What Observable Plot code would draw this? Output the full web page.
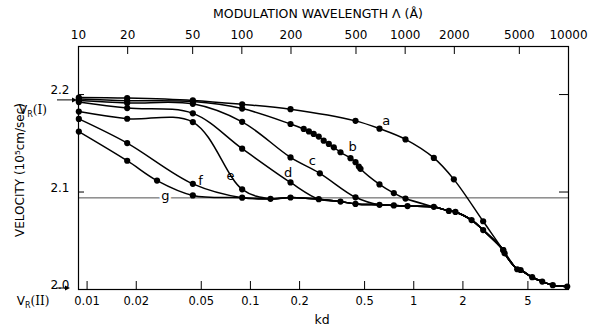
<!DOCTYPE html>
<html><head><meta charset="utf-8">
<script src="https://cdn.jsdelivr.net/npm/d3@7"></script>
<script src="https://cdn.jsdelivr.net/npm/@observablehq/plot@0.6"></script>
<style>
body{margin:0;background:#fff;}
#chart{width:596px;height:330px;}
</style></head><body><div id="chart"></div>
<script>
// ---- data (kd, velocity in 10^5 cm/sec) ----
const curveNames = ["a","b","c","d","e","f","g"];
const aKd = [0.0089, 0.0176, 0.0444, 0.089, 0.176, 0.44, 0.617, 0.89, 1.327, 1.76, 2.66, 3.53];
const aV  = [2.197, 2.1964, 2.194, 2.190, 2.185, 2.173, 2.165, 2.154, 2.135, 2.113, 2.070, 2.0405];
const bKd = [0.0089, 0.0176, 0.0444, 0.089, 0.176, 0.212, 0.228, 0.244, 0.262, 0.281, 0.302, 0.324, 0.356, 0.410, 0.440, 0.461, 0.472, 0.617, 0.755, 0.890];
const bV  = [2.1954, 2.1937, 2.1928, 2.1856, 2.1698, 2.1647, 2.1622, 2.1596, 2.1569, 2.1527, 2.1494, 2.1459, 2.1408, 2.1347, 2.1306, 2.1261, 2.1238, 2.1078, 2.0989, 2.0933];
const cKd = [0.0089, 0.0176, 0.0444, 0.089, 0.176, 0.266, 0.440];
const cV  = [2.1938, 2.1913, 2.1905, 2.172, 2.1355, 2.1192, 2.0946];
const dKd = [0.0089, 0.0176, 0.0444, 0.089, 0.176];
const dV  = [2.1923, 2.1861, 2.1807, 2.1445, 2.1098];
const eKd = [0.0089, 0.0176, 0.0444, 0.089];
const eV  = [2.1825, 2.1752, 2.1718, 2.1028];
const fKd = [0.0089, 0.0176, 0.0444];
const fV  = [2.175, 2.1502, 2.1084];
const gKd = [0.0089, 0.0176, 0.0268, 0.0444];
const gV  = [2.162, 2.1321, 2.1117, 2.0965];
// common lower branch shared by the curves
const tailKd = [0.089, 0.1327, 0.176, 0.262, 0.356, 0.440, 0.617, 0.755, 0.916, 1.327, 1.64, 1.80, 2.26, 2.66, 3.53, 3.60, 4.30, 4.51, 5.31, 6.12, 7.10, 8.70];
const tailV  = [2.0942, 2.0930, 2.0944, 2.0927, 2.0902, 2.0878, 2.0869, 2.0863, 2.0856, 2.0848, 2.0806, 2.0796, 2.0712, 2.061, 2.0405, 2.0371, 2.0208, 2.020, 2.0126, 2.0081, 2.0044, 2.0031];
// curve label positions
const labelText = ["a","b","c","d","e","f","g"];
const labelKd = [0.678, 0.423, 0.239, 0.170, 0.0755, 0.0495, 0.0302];
const labelV  = [2.1726, 2.1467, 2.1322, 2.1201, 2.1164, 2.1111, 2.0956];
// axes
const kdTicks = [0.01, 0.02, 0.05, 0.1, 0.2, 0.5, 1, 2, 5];
const kdTickLabels = ["0.01", "0.02", "0.05", "0.1", "0.2", "0.5", "1", "2", "5"];
const lambdaTicks = [10, 20, 50, 100, 200, 500, 1000, 2000, 5000, 10000];
const lambdaTickLabels = ["10", "20", "50", "100", "200", "500", "1000", "2000", "5000", "10000"];
const vTicks = [2.0, 2.1, 2.2];
const vTickLabels = ["2.0", "2.1", "2.2"];
const refLineV = 2.094;
const vrI = 2.194;
const K = 1128.7; // Λ (Å) = K · kd on this chart
const xDomain = [0.00886, 8.86];
const yDomain = [2.0, 2.2493];

// ---- build tables ----
const own = {a:[aKd,aV], b:[bKd,bV], c:[cKd,cV], d:[dKd,dV], e:[eKd,eV], f:[fKd,fV], g:[gKd,gV]};
const tail = tailKd.map((k,i)=>({kd:k, v:tailV[i]}));
const lineData = [], dotData = [];
for (const n of curveNames) {
  const pts = own[n][0].map((k,i)=>({kd:k, v:own[n][1][i]}));
  const last = pts[pts.length-1];
  const full = pts.concat(tail.filter(t => t.kd > last.kd*1.2));
  full.forEach(p => lineData.push({...p, curve:n}));
  pts.forEach(p => dotData.push(p));
}
tail.forEach(p => dotData.push(p));
const labels = labelText.map((t,i)=>({t, kd:labelKd[i], v:labelV[i]}));
const kdTickData = kdTicks.map((k,i)=>({kd:k, label:kdTickLabels[i]}));
const lamTickData = lambdaTicks.map((l,i)=>({kd:l/K, label:lambdaTickLabels[i]}));
const innerLam = lamTickData.slice(1, -1);

const W=596, H=330, mt=46, mb=41, ml=78, mr=28;
const frameH = H-mt-mb, frameW = W-ml-mr;
const pxPerV = frameH/(yDomain[1]-yDomain[0]);
const pxPerDecade = frameW/Math.log10(xDomain[1]/xDomain[0]);
const tickLenV = 8/pxPerV;
const font = "'DejaVu Sans', sans-serif";

const svg = Plot.plot({
  width: W, height: H, marginTop: mt, marginBottom: mb, marginLeft: ml, marginRight: mr,
  style: {fontFamily: font, fontSize: "11.5px", color: "#000", background: "#fff"},
  x: {type: "log", domain: xDomain, axis: null},
  y: {domain: yDomain, axis: null},
  marks: [
    Plot.ruleY([refLineV], {stroke: "#222", strokeWidth: 0.8}),
    Plot.line(lineData, {x: "kd", y: "v", z: "curve", curve: "catmull-rom", stroke: "#000", strokeWidth: 1.5}),
    Plot.dot(dotData, {x: "kd", y: "v", r: 3.1, fill: "#000", stroke: "none"}),
    Plot.text(labels.filter(d=>d.t==="g"), {x: "kd", y: "v", text: "t", fontSize: 13, stroke: "#fff", strokeWidth: 5, fill: "#000"}),
    Plot.text(labels.filter(d=>d.t!=="g"), {x: "kd", y: "v", text: "t", fontSize: 13, fill: "#000"}),
    Plot.frame({stroke: "#000", strokeWidth: 1.2}),
    // inward ticks
    Plot.ruleX(kdTickData, {x: "kd", y1: yDomain[0], y2: yDomain[0] + tickLenV, stroke: "#000"}),
    Plot.ruleX(innerLam, {x: "kd", y1: yDomain[1], y2: yDomain[1] - tickLenV, stroke: "#000"}),
    Plot.ruleY(vTicks.slice(1), {y: d=>d, x1: xDomain[0], x2: xDomain[0]*Math.pow(10, 6/pxPerDecade), stroke: "#000"}),
    Plot.ruleY(vTicks.slice(1), {y: d=>d, x1: xDomain[1]/Math.pow(10, 9/pxPerDecade), x2: xDomain[1], stroke: "#000"}),
    // tick labels
    Plot.text(kdTickData, {x: "kd", text: "label", frameAnchor: "bottom", lineAnchor: "top", dy: 7, fontSize: 11.5}),
    Plot.text(lamTickData, {x: "kd", text: "label", frameAnchor: "top", lineAnchor: "bottom", dy: -8, fontSize: 12}),
    Plot.text(vTicks.map((v,i)=>({v, label: vTickLabels[i]})), {y: "v", text: "label", frameAnchor: "left", textAnchor: "end", dx: -9, dy: -4, fontSize: 12})
  ]
});
document.getElementById("chart").appendChild(svg);

// ---- annotations ----
const s = d3.select(svg);
const yS = svg.scale("y");
s.append("text").attr("x", 318).attr("y", 18).attr("text-anchor", "middle")
  .attr("font-family", font).attr("font-size", 12.5).text("MODULATION WAVELENGTH Λ (Å)");
s.append("text").attr("x", 322).attr("y", 324).attr("text-anchor", "middle")
  .attr("font-family", font).attr("font-size", 12.5).text("kd");
s.append("text").attr("transform", "translate(24,170) rotate(-90)").attr("text-anchor", "middle")
  .attr("font-family", font).attr("font-size", 12).text("VELOCITY (10⁵cm/sec)");

function vr(x, y, roman) {
  const t = s.append("text").attr("x", x).attr("y", y).attr("font-family", font).attr("font-size", 12);
  t.append("tspan").text("V");
  t.append("tspan").attr("font-size", 8).attr("dy", 3).text("R");
  t.append("tspan").attr("dy", -3).attr("font-family", "'DejaVu Serif', serif").text("(" + roman + ")");
}
function arrow(x1, x2, y) {
  s.append("line").attr("x1", x1).attr("x2", x2 - 3).attr("y1", y).attr("y2", y).attr("stroke", "#000").attr("stroke-width", 1);
  s.append("path").attr("d", `M${x2},${y} L${x2-5},${y-2.5} L${x2-5},${y+2.5} Z`).attr("fill", "#000");
}
const yI = yS.apply(vrI);
arrow(57, 77, yI);
vr(33, yI + 14, "I");
arrow(56, 70, yS.apply(2.0) - 1);
vr(33, 305, "II");
</script></body></html>
